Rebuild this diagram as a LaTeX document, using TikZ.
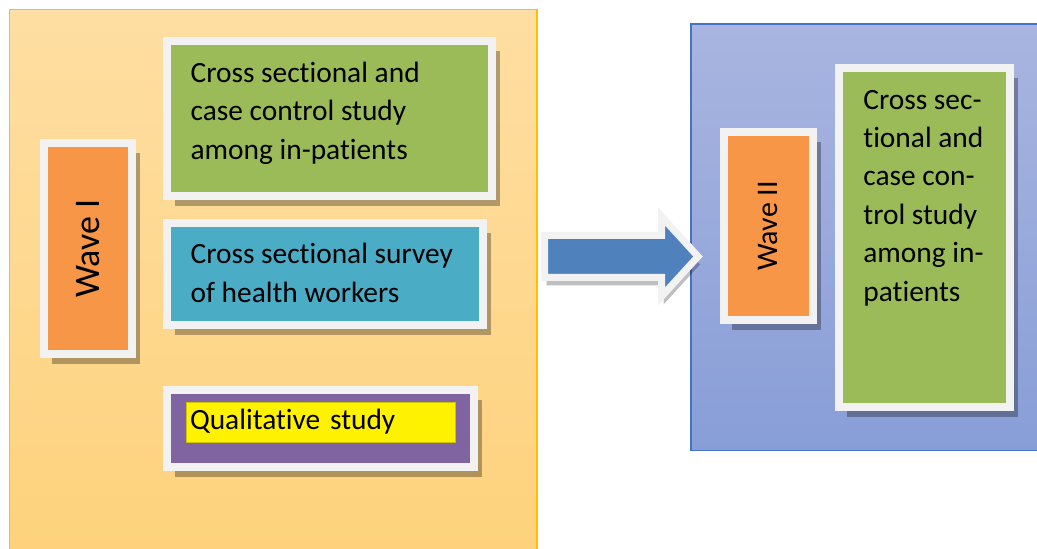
\documentclass[tikz,border=0pt]{standalone}
\usepackage{fontspec}
\setmainfont{Carlito}[Ligatures=NoCommon]
\usepackage{graphicx}
\usepackage{tikz}
\usetikzlibrary{shadows}
\usetikzlibrary{positioning}
\definecolor{mgreen}{HTML}{9BBB59}
\definecolor{mteal}{HTML}{4BACC6}
\definecolor{mpurple}{HTML}{8064A2}
\definecolor{morange}{HTML}{F79646}
\definecolor{marrow}{HTML}{4F81BD}
\definecolor{mframe}{HTML}{F2F2F2}
\definecolor{mgold}{HTML}{FFC000}
\definecolor{mpeachtop}{HTML}{FEDEA2}
\definecolor{mpeachbot}{HTML}{FED27C}
\definecolor{mbluetop}{HTML}{A9B5E0}
\definecolor{mbluebot}{HTML}{889ED7}
\definecolor{mblueline}{HTML}{4472C4}
\definecolor{myellowline}{HTML}{CFC400}

\begin{document}
\begin{tikzpicture}[x=0.5pt, y=-0.5pt,
    panel/.style={anchor=north west, inner sep=0, outer sep=0, line width=0.75pt},
    card/.style={anchor=north west, inner sep=0, outer sep=0, draw=mframe, line width=4pt,
      drop shadow={shadow xshift=4pt, shadow yshift=-5pt, opacity=.3, fill=black}},
    cardtext/.style={anchor=north west, inner sep=0, align=left,
      font=\fontsize{14.7}{19.2}\selectfont}]
  \clip (0,0) rectangle (1037,549);

  % the two waves
  \node [panel, draw=mgold, top color=mpeachtop, bottom color=mpeachbot,
    minimum width=263.85pt, minimum height=275.35pt] (wave1panel) at (9.3,9.3) {};
  \node [panel, draw=mblueline, top color=mbluetop, bottom color=mbluebot,
    minimum width=177pt, minimum height=213.35pt] (wave2panel) at (691,24) {};

  % wave I
  \node [card, fill=morange, minimum width=43.75pt, minimum height=105.5pt,
    font=\fontsize{18}{22}\selectfont] (wave1) at (44,143.25) {\rotatebox{90}{Wave I}};
  \node [card, fill=mgreen, minimum width=162.75pt, minimum height=77.75pt] (crossleft) at (166.8,41) {};
  \node [card, fill=mteal, minimum width=157.85pt, minimum height=51.45pt] (survey) at (166.8,222.6) {};
  \node [card, fill=mpurple, minimum width=153.75pt, minimum height=38.85pt] (qualit) at (166.8,389.7) {};

  \node [cardtext] (crosslefttext) at ([shift={(23.4,14)}]crossleft.north west)
    {\strut Cross sectional and\\ case control study\\ among in-patients};
  \node [cardtext] (surveytext) at ([shift={(23.4,14)}]survey.north west)
    {\strut Cross sectional survey\\ of health workers};
  \node [anchor=north west, fill=yellow, draw=myellowline, line width=0.4pt, outer sep=0,
    inner xsep=2pt, inner ysep=0, text width=130.5pt, minimum height=20pt, align=left,
    font=\fontsize{14.7}{19.2}\selectfont] (qualbox) at (186,402) {\raisebox{-1pt}{Qualitative study}};

  % arrow
  \draw [draw=mframe, line width=3.5pt, fill=marrow,
    drop shadow={shadow xshift=1pt, shadow yshift=-4pt, opacity=.25, fill=black}]
    (544.5,235.5) -- (661.5,235.5) -- (661.5,216.5) -- (698,256.5)
    -- (661.5,296.5) -- (661.5,277.5) -- (544.5,277.5) -- cycle;

  % wave II
  \node [card, fill=morange, minimum width=44.4pt, minimum height=94pt,
    font=\fontsize{15}{18}\selectfont] (wave2) at (724,132) {\rotatebox{90}{Wave II}};
  \node [card, fill=mgreen, minimum width=85.5pt, minimum height=169.4pt] (crossright) at (839.4,67.9) {};
  \node [cardtext] (crossrighttext) at ([shift={(23.6,14)}]crossright.north west)
    {\strut Cross sec-\\ tional and\\ case con-\\ trol study\\ among in-\\ patients};
\end{tikzpicture}
\end{document}
